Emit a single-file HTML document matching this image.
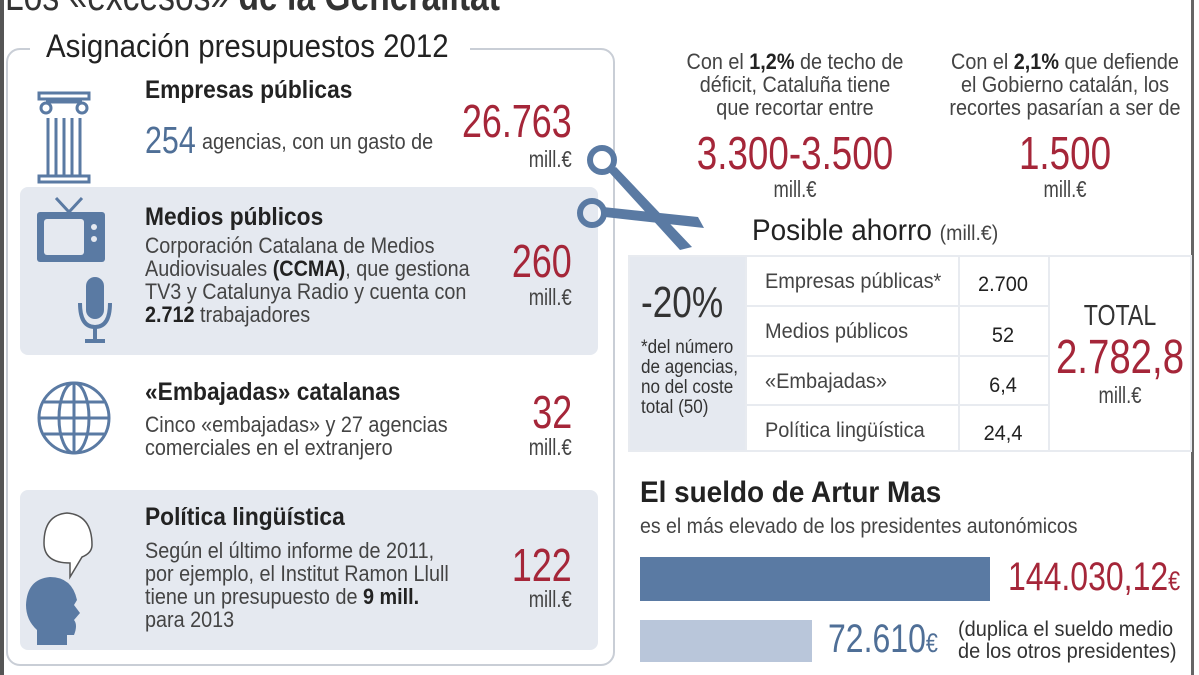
<!DOCTYPE html>
<html><head><meta charset="utf-8"><style>
*{margin:0;padding:0;box-sizing:border-box}
body{width:1199px;height:675px;background:#fff;position:relative;overflow:hidden;font-family:"Liberation Sans",sans-serif;color:#333}
.a{position:absolute;white-space:nowrap}
.L{transform:scaleX(.8);transform-origin:0 0}
.R{transform:scaleX(.78);transform-origin:100% 0}
.C{transform:scaleX(.8);transform-origin:50% 0}
.h{font-weight:bold;color:#222;font-size:25px;transform:scaleX(.91)!important}
.t{font-size:22px;line-height:23px;color:#444;transform:scaleX(.9)!important}
.n{font-size:46px;color:#a52639;text-align:right}
.m{font-size:23px;color:#444;text-align:right;transform:scaleX(.8)!important}
.shade{position:absolute;background:#e5e9f0;border-radius:8px}
.cell{position:absolute;font-size:21px;color:#444;transform:scaleX(.95)!important}
</style></head><body>
<div class="a" style="left:0;top:0;width:4px;height:675px;background:#555"></div>
<div class="a" style="left:1191px;top:0;width:3px;height:675px;background:#666"></div>
<div class="a L" style="left:5px;top:-28px;font-size:42px;color:#333">Los «excesos» <b>de la Generalitat</b></div>

<div class="a" style="left:6px;top:48px;width:609px;height:618px;border:2px solid #c9ced6;border-radius:14px"></div>
<div class="a" style="left:30px;top:34px;width:440px;height:30px;background:#fff"></div>
<div class="a" style="left:46px;top:28px;font-size:32px;color:#222;transform:scaleX(.92);transform-origin:0 0">Asignación presupuestos 2012</div>

<div class="shade" style="left:20px;top:187px;width:578px;height:168px"></div>
<div class="shade" style="left:20px;top:490px;width:578px;height:160px"></div>

<svg class="a" style="left:36px;top:90px" width="56" height="100" viewBox="0 0 56 100">
<g fill="none" stroke="#5a7aa3" stroke-width="3">
<rect x="3" y="3" width="50" height="6"/><circle cx="10" cy="18" r="5"/><circle cx="46" cy="18" r="5"/>
<line x1="10" y1="12" x2="46" y2="12"/>
<line x1="12" y1="28" x2="12" y2="85"/><line x1="20" y1="28" x2="20" y2="85"/><line x1="28" y1="28" x2="28" y2="85"/><line x1="36" y1="28" x2="36" y2="85"/><line x1="44" y1="28" x2="44" y2="85"/>
<rect x="3" y="86" width="50" height="6"/></g></svg>
<div class="a h L" style="left:145px;top:76px">Empresas públicas</div>
<div class="a L" style="left:145px;top:120px;font-size:38px;color:#4f6f97">254</div>
<div class="a t L" style="left:202px;top:130px">agencias, con un gasto de</div>
<div class="a n R" style="right:627px;top:94px">26.763</div>
<div class="a m R" style="right:627px;top:146px">mill.€</div>

<svg class="a" style="left:36px;top:195px" width="80" height="150" viewBox="0 0 80 150">
<path d="M20 3 L33 17 L46 3" stroke="#5a7aa3" stroke-width="3" fill="none"/>
<rect x="1" y="17" width="68" height="50" rx="3" fill="#5a7aa3"/><rect x="8" y="24" width="40" height="36" rx="3" fill="#e5e9f0"/>
<circle cx="58" cy="32" r="3" fill="#e5e9f0"/><circle cx="58" cy="44" r="3" fill="#e5e9f0"/>
<rect x="50" y="82" width="18" height="42" rx="9" fill="#5a7aa3"/>
<path d="M44 108 Q44 132 59 132 Q74 132 74 108" stroke="#5a7aa3" stroke-width="4" fill="none"/>
<line x1="59" y1="132" x2="59" y2="144" stroke="#5a7aa3" stroke-width="4"/><line x1="49" y1="146" x2="69" y2="146" stroke="#5a7aa3" stroke-width="4"/>
</svg>
<div class="a h L" style="left:145px;top:203px">Medios públicos</div>
<div class="a t L" style="left:145px;top:234px">Corporación Catalana de Medios<br>Audiovisuales <b style="color:#222">(CCMA)</b>, que gestiona<br>TV3 y Catalunya Radio y cuenta con<br><b style="color:#222">2.712</b> trabajadores</div>
<div class="a n R" style="right:627px;top:234px">260</div>
<div class="a m R" style="right:627px;top:284px">mill.€</div>

<svg class="a" style="left:36px;top:380px" width="80" height="80" viewBox="0 0 80 80">
<g fill="none" stroke="#5a7aa3" stroke-width="3"><circle cx="38" cy="38" r="35"/><ellipse cx="38" cy="38" rx="15" ry="35"/><line x1="38" y1="3" x2="38" y2="73"/><line x1="3" y1="38" x2="73" y2="38"/><line x1="8" y1="22" x2="68" y2="22"/><line x1="8" y1="54" x2="68" y2="54"/></g></svg>
<div class="a h L" style="left:145px;top:378px">«Embajadas» catalanas</div>
<div class="a t L" style="left:145px;top:413px">Cinco «embajadas» y 27 agencias<br>comerciales en el extranjero</div>
<div class="a n R" style="right:627px;top:385px">32</div>
<div class="a m R" style="right:627px;top:434px">mill.€</div>

<svg class="a" style="left:22px;top:505px" width="90" height="140" viewBox="0 0 90 140">
<path d="M70 40 Q70 10 45 8 Q22 10 22 38 Q22 58 48 58 L48 72 L60 52 Q70 48 70 40Z" fill="#fff" stroke="#555" stroke-width="1.5"/>
<path d="M28 72 Q5 74 4 100 Q4 115 15 125 L15 140 L45 140 L45 130 L52 130 Q56 120 52 115 L58 108 L52 100 L55 95 Q50 72 28 72Z" fill="#5a7aa3"/>
</svg>
<div class="a h L" style="left:145px;top:503px">Política lingüística</div>
<div class="a t L" style="left:145px;top:539px">Según el último informe de 2011,<br>por ejemplo, el Institut Ramon Llull<br>tiene un presupuesto de <b style="color:#222">9 mill.</b><br>para 2013</div>
<div class="a n R" style="right:627px;top:538px">122</div>
<div class="a m R" style="right:627px;top:586px">mill.€</div>

<svg class="a" style="left:572px;top:135px" width="140" height="120" viewBox="0 0 140 120">
<g fill="none" stroke="#5a7aa3" stroke-width="6"><circle cx="30" cy="25" r="12"/><circle cx="20" cy="78" r="12"/></g>
<path d="M36 36 L44 32 L120 112 L108 115Z" fill="#5a7aa3"/>
<path d="M31 72 L33 82 L132 93 L126 82Z" fill="#5a7aa3"/>
</svg>

<div class="a t C" style="left:650px;top:50px;width:290px;text-align:center;transform-origin:50% 0">Con el <b style="color:#222">1,2%</b> de techo de<br>déficit, Cataluña tiene<br>que recortar entre</div>
<div class="a C" style="left:620px;top:126px;width:350px;text-align:center;font-size:46px;color:#a52639">3.300-3.500</div>
<div class="a m C" style="left:670px;top:176px;width:250px;text-align:center;transform-origin:50% 0">mill.€</div>
<div class="a t C" style="left:910px;top:50px;width:310px;text-align:center;transform-origin:50% 0">Con el <b style="color:#222">2,1%</b> que defiende<br>el Gobierno catalán, los<br>recortes pasarían a ser de</div>
<div class="a C" style="left:940px;top:126px;width:250px;text-align:center;font-size:46px;color:#a52639">1.500</div>
<div class="a m C" style="left:940px;top:176px;width:250px;text-align:center;transform-origin:50% 0">mill.€</div>

<div class="a" style="left:752px;top:214px;font-size:30px;color:#222;transform:scaleX(.93);transform-origin:0 0">Posible ahorro <span style="font-size:21px;color:#444">(mill.€)</span></div>

<div class="a" style="left:628px;top:255px;width:117px;height:197px;background:#e5e9f0"></div>
<div class="a" style="left:628px;top:255px;width:564px;height:197px;border:2px solid #e8ebf0"></div>
<div class="a" style="left:745px;top:255px;width:2px;height:197px;background:#e8ebf0"></div>
<div class="a" style="left:958px;top:255px;width:2px;height:197px;background:#e8ebf0"></div>
<div class="a" style="left:1048px;top:255px;width:2px;height:197px;background:#e8ebf0"></div>
<div class="a" style="left:745px;top:305px;width:303px;height:2px;background:#e8ebf0"></div>
<div class="a" style="left:745px;top:355px;width:303px;height:2px;background:#e8ebf0"></div>
<div class="a" style="left:745px;top:404px;width:303px;height:2px;background:#e8ebf0"></div>
<div class="a L" style="left:641px;top:278px;font-size:44px;color:#333">-20%</div>
<div class="a" style="left:641px;top:338px;font-size:19px;line-height:20px;color:#333;transform:scaleX(.9);transform-origin:0 0">*del número<br>de agencias,<br>no del coste<br>total (50)</div>
<div class="cell L" style="left:765px;top:270px">Empresas públicas*</div>
<div class="cell L" style="left:765px;top:320px">Medios públicos</div>
<div class="cell L" style="left:765px;top:370px">«Embajadas»</div>
<div class="cell L" style="left:765px;top:419px">Política lingüística</div>
<div class="cell C" style="left:958px;top:273px;width:90px;text-align:center;color:#222;transform-origin:50% 0">2.700</div>
<div class="cell C" style="left:958px;top:324px;width:90px;text-align:center;color:#222;transform-origin:50% 0">52</div>
<div class="cell C" style="left:958px;top:374px;width:90px;text-align:center;color:#222;transform-origin:50% 0">6,4</div>
<div class="cell C" style="left:958px;top:422px;width:90px;text-align:center;color:#222;transform-origin:50% 0">24,4</div>
<div class="a C" style="left:1048px;top:300px;width:144px;text-align:center;font-size:29px;color:#333">TOTAL</div>
<div class="a C" style="left:1030px;top:330px;width:180px;text-align:center;font-size:48px;color:#a52639">2.782,8</div>
<div class="a m C" style="left:1048px;top:382px;width:144px;text-align:center;transform-origin:50% 0">mill.€</div>

<div class="a" style="left:640px;top:476px;font-size:30px;font-weight:bold;color:#222;transform:scaleX(.93);transform-origin:0 0">El sueldo de Artur Mas</div>
<div class="a" style="left:640px;top:515px;font-size:21px;color:#444;transform:scaleX(.93);transform-origin:0 0">es el más elevado de los presidentes autonómicos</div>
<div class="a" style="left:640px;top:557px;width:350px;height:44px;background:#5a7aa3"></div>
<div class="a L" style="left:1008px;top:555px;font-size:40px;color:#a52639">144.030,12<span style="font-size:27px">€</span></div>
<div class="a" style="left:640px;top:620px;width:172px;height:42px;background:#b9c6da"></div>
<div class="a L" style="left:828px;top:617px;font-size:40px;color:#4f6f97">72.610<span style="font-size:27px">€</span></div>
<div class="a" style="left:958px;top:619px;font-size:21px;line-height:22px;color:#333;transform:scaleX(.95);transform-origin:0 0">(duplica el sueldo medio<br>de los otros presidentes)</div>
</body></html>
